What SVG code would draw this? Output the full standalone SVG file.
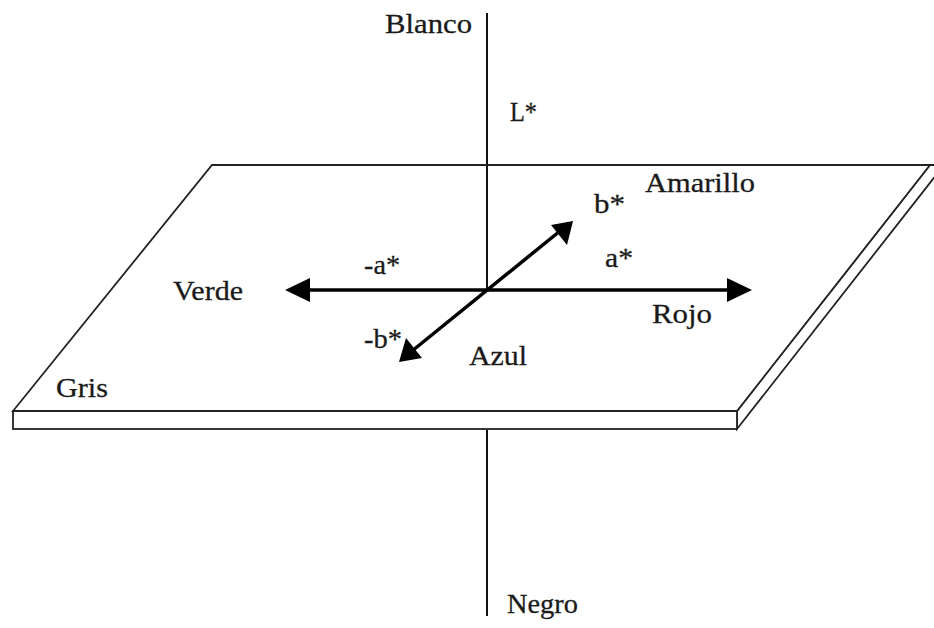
<svg xmlns="http://www.w3.org/2000/svg" width="934" height="628" viewBox="0 0 934 628">
<style>
.t{font-family:"Liberation Serif","Times New Roman",serif;font-size:28px;fill:#1a1a1a;stroke:#1a1a1a;stroke-width:0.3}
.e{fill:#fff;stroke:#222;stroke-width:1.8;stroke-linejoin:miter}
.ax{stroke:#111;stroke-width:2}
.ar{stroke:#000;stroke-width:3.5;fill:none}
.hd{fill:#000}
</style>
<rect width="934" height="628" fill="#fff"/>
<g id="axis-L">
<line class="ax" x1="487" y1="13" x2="487" y2="166"/>
<line class="ax" x1="487" y1="430" x2="487" y2="616"/>
</g>
<g id="plane">
<polygon class="e" points="737,411 930,165 944,165 737,429"/>
<rect class="e" x="13" y="411" width="724" height="18"/>
<polygon class="e" points="212,165 930,165 737,411 13,411"/>
</g>
<g id="connectors">
<line class="ax" x1="487" y1="165" x2="487" y2="290"/>
<line class="ar" x1="305" y1="290" x2="732" y2="290"/>
<polygon class="hd" points="285,290 310,278 310,302"/>
<polygon class="hd" points="752,290 727,278 727,302"/>
<line class="ar" x1="412" y1="351" x2="560" y2="231"/>
<polygon class="hd" points="399,362 406,338 422,358"/>
<polygon class="hd" points="573,221 567,245 551,225"/>
</g>
<g id="labels">
<text class="t" x="385" y="33" textLength="87" lengthAdjust="spacingAndGlyphs">Blanco</text>
<text class="t" x="510" y="121" textLength="27" lengthAdjust="spacingAndGlyphs">L*</text>
<text class="t" x="645" y="192" textLength="110" lengthAdjust="spacingAndGlyphs">Amarillo</text>
<text class="t" x="594" y="213" textLength="31" lengthAdjust="spacingAndGlyphs">b*</text>
<text class="t" x="605" y="267" textLength="28" lengthAdjust="spacingAndGlyphs">a*</text>
<text class="t" x="364" y="274" textLength="36" lengthAdjust="spacingAndGlyphs">-a*</text>
<text class="t" x="173" y="300" textLength="70" lengthAdjust="spacingAndGlyphs">Verde</text>
<text class="t" x="652" y="323" textLength="60" lengthAdjust="spacingAndGlyphs">Rojo</text>
<text class="t" x="364" y="348" textLength="38" lengthAdjust="spacingAndGlyphs">-b*</text>
<text class="t" x="469" y="365" textLength="58" lengthAdjust="spacingAndGlyphs">Azul</text>
<text class="t" x="56" y="397" textLength="52" lengthAdjust="spacingAndGlyphs">Gris</text>
<text class="t" x="507" y="613" textLength="71" lengthAdjust="spacingAndGlyphs">Negro</text>
</g>
</svg>
